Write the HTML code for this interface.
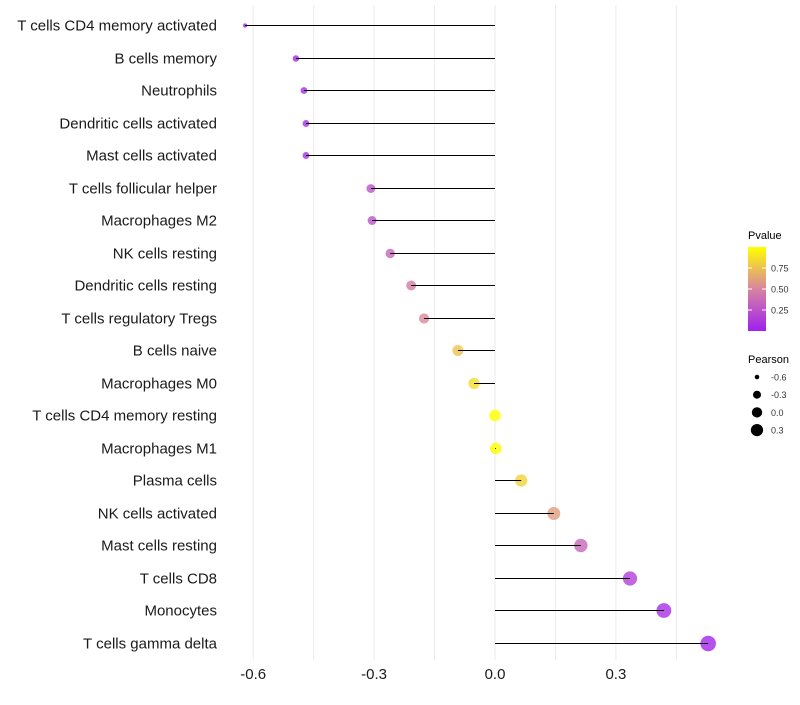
<!DOCTYPE html>
<html><head><meta charset="utf-8"><style>
body{margin:0;background:#fff;font-family:"Liberation Sans",sans-serif}
</style></head><body>
<svg id="chart" width="800" height="700" xmlns="http://www.w3.org/2000/svg">
<defs><linearGradient id="pg" x1="0" y1="1" x2="0" y2="0">
<stop offset="0" stop-color="#a020f0"/><stop offset="0.5" stop-color="#d884a0"/><stop offset="1" stop-color="#ffff00"/></linearGradient></defs>
<g id="grid"></g><g id="marks"></g><g id="labels"></g><g id="legend"></g>
</svg>
<script>
const categories=["T cells CD4 memory activated","B cells memory","Neutrophils","Dendritic cells activated","Mast cells activated","T cells follicular helper","Macrophages M2","NK cells resting","Dendritic cells resting","T cells regulatory  Tregs ","B cells naive","Macrophages M0","T cells CD4 memory resting","Macrophages M1","Plasma cells","NK cells activated","Mast cells resting","T cells CD8","Monocytes","T cells gamma delta"];
const pearson=[-0.62,-0.494,-0.474,-0.469,-0.469,-0.308,-0.305,-0.26,-0.208,-0.176,-0.092,-0.052,0.0,0.002,0.065,0.146,0.213,0.335,0.419,0.529];
const pvalues=[0.01,0.04,0.05,0.06,0.06,0.25,0.25,0.35,0.45,0.52,0.75,0.86,1.0,0.99,0.82,0.6,0.36,0.15,0.07,0.02];
const xTicks=[-0.6,-0.3,0.0,0.3];
const xTickLabels=["-0.6","-0.3","0.0","0.3"];
const pTicks=[0.25,0.5,0.75];
const pTickLabels=["0.25","0.50","0.75"];
const sizeBreaks=[-0.6,-0.3,0.0,0.3];
const sizeLabels=["-0.6","-0.3","0.0","0.3"];

const NS="http://www.w3.org/2000/svg";
const X=v=>495+v*403;
const Y=i=>Math.round(25+i*32.5)+0.5;
const R=v=>Math.sqrt(Math.max(1,4.5+48.6*(v+0.62)));
const RL=v=>Math.sqrt(Math.max(1,4.5+36*(v+0.62)));
function col(p){const a=[160,32,240],m=[216,132,160],b=[255,255,0];let c;
 if(p<0.5){const t=p/0.5;c=a.map((x,k)=>x+(m[k]-x)*t);}else{const t=(p-0.5)/0.5;c=m.map((x,k)=>x+(b[k]-x)*t);}
 return `rgb(${c.map(Math.round).join(',')})`;}
function mk(t,at,parent){const e=document.createElementNS(NS,t);for(const k in at)e.setAttribute(k,at[k]);parent.appendChild(e);return e;}
const grid=document.getElementById('grid'),marks=document.getElementById('marks'),labels=document.getElementById('labels'),legend=document.getElementById('legend');
for(let v=-0.6;v<=0.46;v+=0.15){const g=mk('line',{x1:X(v),x2:X(v),y1:5,y2:660,stroke:'#ebebeb','stroke-width':1},grid);
 
 }
categories.forEach((c,i)=>{
 const d=mk('circle',{cx:X(pearson[i]),cy:Y(i),r:R(pearson[i]),fill:col(pvalues[i]),'fill-opacity':0.8},marks);
 
 
 const l=mk('line',{x1:X(0),x2:X(pearson[i]),y1:Y(i),y2:Y(i),stroke:'#000','stroke-width':1},marks);
 
 
 const t=mk('text',{x:217,y:Y(i)+5,'text-anchor':'end','font-size':15,fill:'#1a1a1a'},labels);t.textContent=c;
 
 
});
xTicks.forEach((v,i)=>{const t=mk('text',{x:X(v),y:679,'text-anchor':'middle','font-size':15,fill:'#1a1a1a'},labels);t.textContent=xTickLabels[i];
 
 });
const pt=mk('text',{x:748,y:239,'font-size':11,fill:'#000'},legend);pt.textContent='Pvalue';


const bar=mk('rect',{x:748,y:247,width:18,height:84,fill:'url(#pg)'},legend);


pTicks.forEach((p,i)=>{const y=331-p*84;
 mk('line',{x1:748,x2:752,y1:y,y2:y,stroke:'#fff'},legend);mk('line',{x1:762,x2:766,y1:y,y2:y,stroke:'#fff'},legend);
 const t=mk('text',{x:771,y:y+3.5,'font-size':9,fill:'#333'},legend);t.textContent=pTickLabels[i];
 
 });
const st=mk('text',{x:748,y:363,'font-size':11,fill:'#000'},legend);st.textContent='Pearson';


sizeBreaks.forEach((v,i)=>{const y=377+i*17.7;
 const c=mk('circle',{cx:757,cy:y,r:RL(v),fill:'#000'},legend);
 
 
 const t=mk('text',{x:771,y:y+3.5,'font-size':9,fill:'#333'},legend);t.textContent=sizeLabels[i];
 
 });
</script>
</body></html>
